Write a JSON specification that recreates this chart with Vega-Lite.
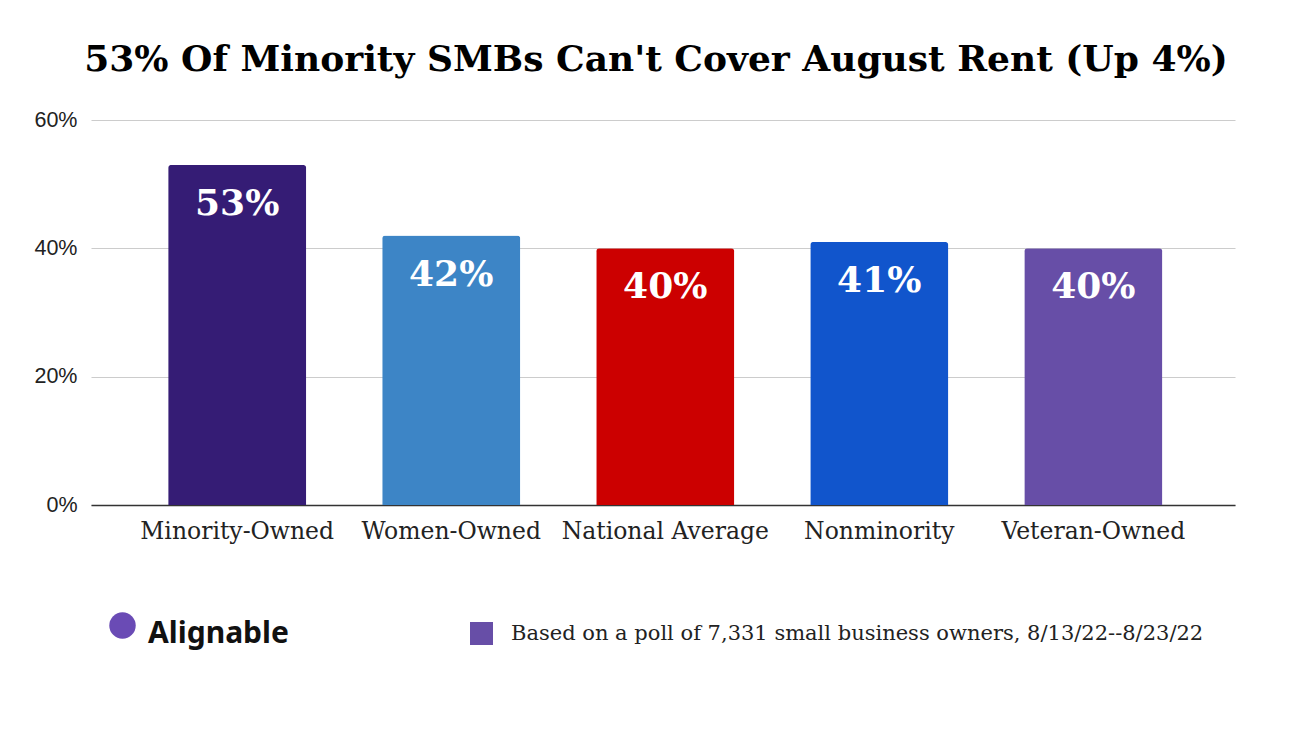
{
  "$schema": "https://vega.github.io/schema/vega-lite/v6.json",
  "autosize": "none",
  "width": 1144,
  "height": 385,
  "padding": {"left": 91, "top": 120, "right": 67, "bottom": 245},
  "background": "white",
  "title": {
    "text": "53% Of Minority SMBs Can't Cover August Rent (Up 4%)",
    "font": "DejaVu Serif",
    "fontWeight": "bold",
    "fontSize": 36,
    "color": "#000000",
    "anchor": "middle",
    "frame": "group",
    "dx": -7,
    "offset": 30
  },
  "data": {
    "values": [
      {"category": "Minority-Owned", "value": 0.53, "label": "53%", "color": "#351c75", "note": "Based on a poll of 7,331 small business owners, 8/13/22--8/23/22"},
      {"category": "Women-Owned", "value": 0.42, "label": "42%", "color": "#3d85c6", "note": "Based on a poll of 7,331 small business owners, 8/13/22--8/23/22"},
      {"category": "National Average", "value": 0.40, "label": "40%", "color": "#cc0000", "note": "Based on a poll of 7,331 small business owners, 8/13/22--8/23/22"},
      {"category": "Nonminority", "value": 0.41, "label": "41%", "color": "#1155cc", "note": "Based on a poll of 7,331 small business owners, 8/13/22--8/23/22"},
      {"category": "Veteran-Owned", "value": 0.40, "label": "40%", "color": "#674ea7", "note": "Based on a poll of 7,331 small business owners, 8/13/22--8/23/22"}
    ]
  },
  "encoding": {
    "x": {
      "field": "category",
      "type": "nominal",
      "sort": null,
      "scale": {"paddingInner": 0.355, "paddingOuter": 0.35, "align": 0.515},
      "axis": {
        "title": null,
        "labelAngle": 0,
        "labelFont": "DejaVu Serif",
        "labelFontSize": 23.5,
        "labelColor": "#222222",
        "labelPadding": 14,
        "labelLimit": 400,
        "ticks": false,
        "domainColor": "#333333",
        "domainWidth": 1.5,
        "grid": false
      }
    },
    "y": {
      "field": "value",
      "type": "quantitative",
      "scale": {"domain": [0, 0.6], "nice": false},
      "axis": {
        "title": null,
        "values": [0, 0.2, 0.4, 0.6],
        "format": ".0%",
        "labelFont": "Liberation Sans",
        "labelFontSize": 21.5,
        "labelColor": "#222222",
        "labelPadding": 14,
        "ticks": false,
        "domain": false,
        "grid": true,
        "gridColor": "#cccccc",
        "gridWidth": 1.2
      }
    }
  },
  "layer": [
    {
      "mark": {"type": "bar", "cornerRadiusTopLeft": 3, "cornerRadiusTopRight": 3},
      "encoding": {
        "color": {"field": "color", "type": "nominal", "scale": null}
      }
    },
    {
      "mark": {"type": "text", "text": ""},
      "encoding": {
        "text": {"value": ""},
        "color": {
          "field": "note",
          "type": "nominal",
          "scale": {"range": ["#674ea7"]},
          "legend": {
            "orient": "none",
            "legendX": 57,
            "legendY": 502,
            "title": "Alignable",
            "titleOrient": "left",
            "titleFont": "Noto Sans",
            "titleFontWeight": "bold",
            "titleFontSize": 30,
            "titleColor": "#111111",
            "titlePadding": 181,
            "titleBaseline": "middle",
            "symbolType": "square",
            "symbolSize": 529,
            "symbolStrokeWidth": 0,
            "symbolOpacity": 1,
            "labelFont": "DejaVu Serif",
            "labelFontSize": 21,
            "labelColor": "#222222",
            "labelOffset": 18,
            "labelLimit": 900
          }
        }
      }
    },
    {
      "mark": {"type": "point", "size": 0, "filled": true, "opacity": 0, "color": "#6a4bb5"},
      "encoding": {
        "shape": {
          "field": "note",
          "type": "nominal",
          "scale": {"range": ["circle"]},
          "legend": {
            "orient": "none",
            "legendX": 18,
            "legendY": 492,
            "title": null,
            "labelExpr": "''",
            "symbolSize": 700,
            "symbolFillColor": "#6a4bb5",
            "symbolStrokeWidth": 0,
            "symbolOpacity": 1
          }
        }
      }
    },
    {
      "mark": {"type": "text", "baseline": "alphabetic", "dy": 50, "font": "DejaVu Serif", "fontWeight": "bold", "fontSize": 36, "color": "white"},
      "encoding": {
        "text": {"field": "label", "type": "nominal"}
      }
    }
  ],
  "resolve": {"scale": {"color": "independent"}},
  "config": {"view": {"stroke": null}}
}
